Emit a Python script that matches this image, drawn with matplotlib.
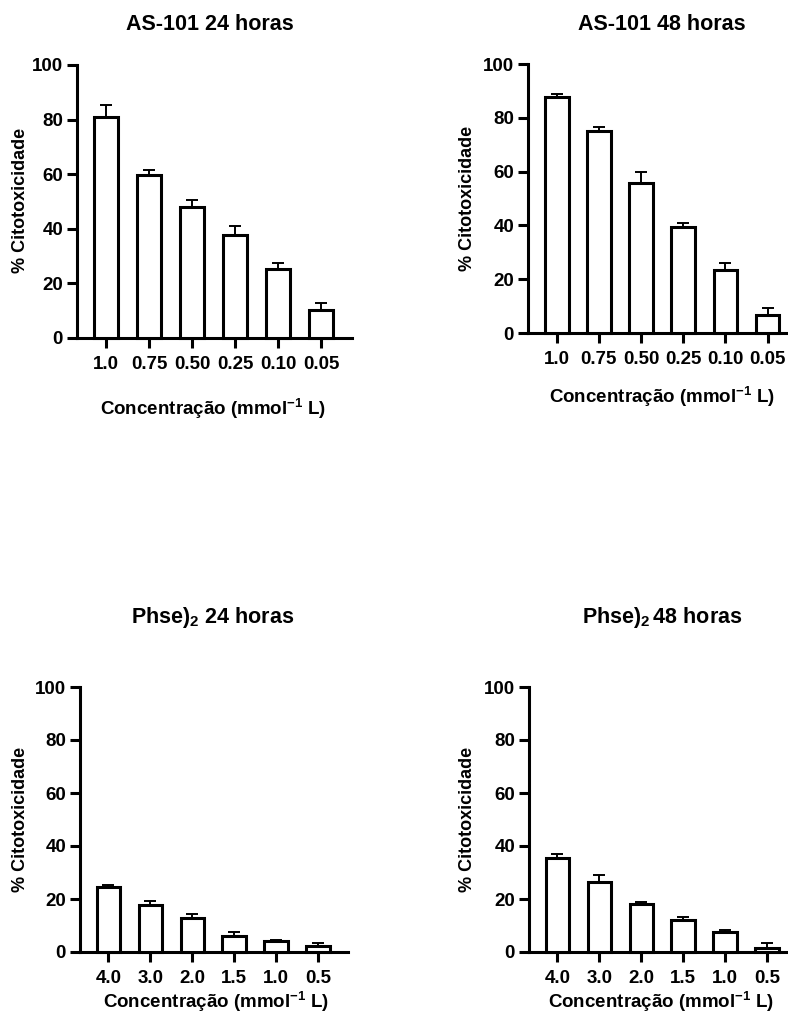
import matplotlib
matplotlib.use("Agg")
import matplotlib.pyplot as plt
import numpy as np

plt.rcParams['font.family'] = ['Liberation Sans', 'DejaVu Sans']
plt.rcParams['font.weight'] = 'bold'
plt.rcParams['mathtext.fontset'] = 'custom'
plt.rcParams['mathtext.rm'] = 'Liberation Sans:bold'
plt.rcParams['mathtext.bf'] = 'Liberation Sans:bold'
plt.rcParams['mathtext.it'] = 'Liberation Sans:bold'

# ---- data ----
as_labels = ["1.0", "0.75", "0.50", "0.25", "0.10", "0.05"]
phse_labels = ["4.0", "3.0", "2.0", "1.5", "1.0", "0.5"]

as24_vals = [81.1, 59.6, 48.0, 37.9, 25.2, 10.1]
as24_err = [4.3, 2.0, 2.6, 3.0, 2.2, 2.6]

as48_vals = [87.8, 75.2, 55.9, 39.4, 23.5, 6.8]
as48_err = [1.0, 1.2, 4.0, 1.5, 2.5, 2.6]

ph24_vals = [24.5, 17.6, 12.8, 6.2, 4.0, 2.4]
ph24_err = [0.9, 1.8, 1.5, 1.5, 0.7, 0.9]

ph48_vals = [35.5, 26.3, 18.2, 11.9, 7.4, 1.6]
ph48_err = [1.5, 2.6, 0.7, 1.4, 0.8, 1.8]

titles = ["AS-101 24 horas", "AS-101 48 horas",
          r"Phse)$_{2}$ 24 horas", r"Phse)$_{2}\,$48 horas"]
xlabel = r"Concentração (mmol$^{-1}$ L)"
ylabel = "% Citotoxicidade"

W, H = 788, 1029
fig = plt.figure(figsize=(W / 100, H / 100), dpi=100)


def px_axes(left, right, top, bottom):
    return fig.add_axes([left / W, 1 - bottom / H, (right - left) / W, (bottom - top) / H])


panels = [
    dict(box=(77, 352, 65, 338), labels=as_labels, vals=as24_vals, err=as24_err,
         title=titles[0], tpos=(210, 24), xl=(213, 409), yl=(21, 200)),
    dict(box=(528, 798, 64, 333), labels=as_labels, vals=as48_vals, err=as48_err,
         title=titles[1], tpos=(662, 24), xl=(662, 397), yl=(467, 198)),
    dict(box=(80, 348, 687, 952), labels=phse_labels, vals=ph24_vals, err=ph24_err,
         title=titles[2], tpos=(213, 618), xl=(216, 1002), yl=(21, 819)),
    dict(box=(529, 797, 687, 952), labels=phse_labels, vals=ph48_vals, err=ph48_err,
         title=titles[3], tpos=(662, 618), xl=(661, 1002), yl=(467, 819)),
]

LW = 2.2
for p in panels:
    ax = px_axes(*p['box'])
    x = np.arange(len(p['labels']))
    ax.bar(x, p['vals'], width=0.56, color='white', edgecolor='black',
           linewidth=LW, zorder=3, clip_on=False)
    ax.errorbar(x, p['vals'], yerr=[np.zeros(len(x)), p['err']], fmt='none',
                ecolor='black', elinewidth=1.4, capsize=4.5, capthick=1.4, zorder=2,
                clip_on=False)
    ax.set_xlim(-0.68, 5.72)
    ax.set_ylim(0, 100)
    ax.set_yticks([0, 20, 40, 60, 80, 100])
    ax.set_xticks(x)
    ax.set_xticklabels(p['labels'])
    for s in ['top', 'right']:
        ax.spines[s].set_visible(False)
    for s in ['left', 'bottom']:
        ax.spines[s].set_linewidth(LW)
    ax.tick_params(axis='both', length=7.5, width=LW, labelsize=13.5)
    ax.tick_params(axis='x', pad=5.5)
    ax.tick_params(axis='y', pad=2.5)
    for lab in ax.get_xticklabels() + ax.get_yticklabels():
        lab.set_fontweight('bold')
    fig.text(p['tpos'][0] / W, 1 - p['tpos'][1] / H, p['title'], ha='center',
             va='center', fontsize=15.5, fontweight='bold')
    fig.text(p['xl'][0] / W, 1 - p['xl'][1] / H, xlabel, ha='center',
             va='center', fontsize=13.5, fontweight='bold')
    fig.text(p['yl'][0] / W, 1 - p['yl'][1] / H, ylabel, ha='center',
             va='center', fontsize=13, fontweight='bold', rotation=90)

fig.savefig("out.png", dpi=100, facecolor='white')
